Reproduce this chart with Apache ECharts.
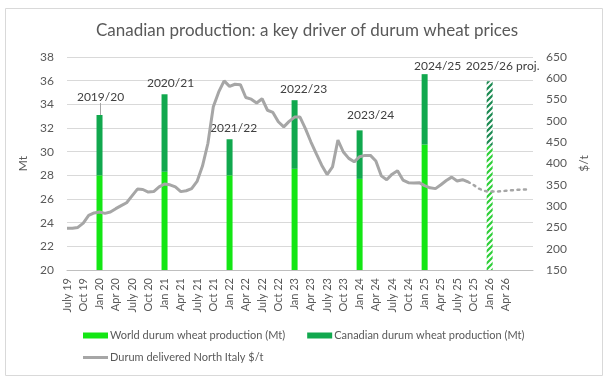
<!DOCTYPE html>
<html>
<head>
<meta charset="utf-8">
<script src="https://cdn.jsdelivr.net/npm/echarts@6/dist/echarts.min.js"></script>
<style>
html,body{margin:0;padding:0;background:#fff;}
#c{width:614px;height:383px;}
</style>
</head>
<body>
<div id="c"></div>
<script>
// ---- DATA ----
const months = [
 'July 19','Aug 19','Sep 19','Oct 19','Nov 19','Dec 19',
 'Jan 20','Feb 20','Mar 20','Apr 20','May 20','Jun 20','July 20','Aug 20','Sep 20','Oct 20','Nov 20','Dec 20',
 'Jan 21','Feb 21','Mar 21','Apr 21','May 21','Jun 21','July 21','Aug 21','Sep 21','Oct 21','Nov 21','Dec 21',
 'Jan 22','Feb 22','Mar 22','Apr 22','May 22','Jun 22','July 22','Aug 22','Sep 22','Oct 22','Nov 22','Dec 22',
 'Jan 23','Feb 23','Mar 23','Apr 23','May 23','Jun 23','July 23','Aug 23','Sep 23','Oct 23','Nov 23','Dec 23',
 'Jan 24','Feb 24','Mar 24','Apr 24','May 24','Jun 24','July 24','Aug 24','Sep 24','Oct 24','Nov 24','Dec 24',
 'Jan 25','Feb 25','Mar 25','Apr 25','May 25','Jun 25','July 25','Aug 25','Sep 25','Oct 25','Nov 25','Dec 25',
 'Jan 26','Feb 26','Mar 26','Apr 26','May 26','Jun 26','July 26','Aug 26','Sep 26'
];
const barMonths = ['Jan 20','Jan 21','Jan 22','Jan 23','Jan 24','Jan 25','Jan 26'];
const seasons = ['2019/20','2020/21','2021/22','2022/23','2023/24','2024/25','2025/26 proj.'];
const worldProd = [28.0, 28.3, 28.0, 28.55, 27.7, 30.6, 30.5];
const canadaProd = [5.1, 6.55, 3.05, 5.8, 4.1, 5.95, 5.45];
const projectedSeason = '2025/26 proj.';
// Durum delivered North Italy $/t, monthly from July 19
const priceActual = [
 248,248,250,260,278,284,
 286,283,286,294,301,308,324,340,339,333,334,345,
 352,350,345,334,336,341,358,394,447,533,568,594,
 581,586,585,555,551,542,552,525,520,498,486,499,
 509,509,482,451,423,396,374,392,455,427,412,404,
 416,419,419,406,371,362,375,383,361,355,354,355,
 348,343,341,350,360,368,359,362,357
];
// projection (dotted), starting at Sep 25
const projStart = 'Sep 25';
const priceProjected = [357,350,341,336,334,334,335,336,337,338,339,339];
const leftTicks = {min:20, max:38, step:2};
const rightTicks = {min:150, max:650, step:50};

// ---- STYLE ----
const FONT = 'Lato, "Liberation Sans", sans-serif';
const TXT = '#595959';
const LIGHT = '#14E614';
const DARK = '#11A84E';
const labelShift = {
 '2019/20':[1,-7],'2020/21':[6,0],'2021/22':[4,0],'2022/23':[9,0],
 '2023/24':[11,-4],'2024/25':[13,3],'2025/26 proj.':[13,-4]
};
const leaderLabel = '2019/20';
function hatch(color){
  const c = document.createElement('canvas');
  c.width = 6; c.height = 6;
  const g = c.getContext('2d');
  g.fillStyle = '#ffffff'; g.fillRect(0,0,6,6);
  g.strokeStyle = color; g.lineWidth = 2.2;
  g.beginPath();
  g.moveTo(-1,7); g.lineTo(7,-1);
  g.moveTo(-4,4); g.lineTo(4,-4);
  g.moveTo(2,10); g.lineTo(10,2);
  g.stroke();
  return {image:c, repeat:'repeat'};
}

// ---- BUILD ----
const N = months.length;
const worldData = new Array(N).fill(null);
const canadaData = new Array(N).fill(null);
const labelOfIndex = {};
barMonths.forEach((m,k)=>{
  const i = months.indexOf(m);
  const proj = seasons[k] === projectedSeason;
  labelOfIndex[i] = seasons[k];
  worldData[i] = proj ? {value:worldProd[k], itemStyle:{color:hatch('#2FCF3A')}} : worldProd[k];
  canadaData[i] = {
    value: canadaProd[k],
    itemStyle: proj ? {color:hatch('#1C8A52')} : undefined,
    label: {show:true, formatter: seasons[k]},
    labelLine: {show: seasons[k] === leaderLabel}
  };
});
const actualData = new Array(N).fill(null);
priceActual.forEach((v,i)=>{ actualData[i]=v; });
const projData = new Array(N).fill(null);
const ps = months.indexOf(projStart);
priceProjected.forEach((v,k)=>{ projData[ps+k]=v; });

const chart = echarts.init(document.getElementById('c'), null, {renderer:'canvas'});
chart.setOption({
  animation:false,
  textStyle:{fontFamily:FONT},
  title:{text:'Canadian production: a key driver of durum wheat prices', left:'center', top:17,
    textStyle:{fontFamily:FONT, fontSize:17, fontWeight:'normal', color:TXT}},
  graphic:[{type:'rect', shape:{x:5.5,y:8.5,width:597,height:367}, style:{fill:null, stroke:'#D9D9D9', lineWidth:1}, silent:true}],
  grid:{left:67, right:81, top:57, bottom:113},
  legend:[
    {data:['World durum wheat production (Mt)','Canadian durum wheat production (Mt)'],
     left:78, top:325, itemWidth:25, itemHeight:6, itemGap:22, icon:'rect',
     textStyle:{fontFamily:FONT, fontSize:11, color:TXT, padding:[0,0,0,-3]}},
    {data:[{name:'Durum delivered North Italy $/t', icon:'rect'}],
     left:78, top:347, itemWidth:25, itemHeight:3, icon:'rect',
     textStyle:{fontFamily:FONT, fontSize:11, color:TXT, padding:[0,0,0,-3]}}
  ],
  xAxis:{type:'category', data:months, boundaryGap:false,
    axisLine:{lineStyle:{color:'#BFBFBF'}}, axisTick:{show:false},
    axisLabel:{rotate:90, fontSize:11, color:TXT, margin:8, fontFamily:FONT,
      interval:(i)=> i%3===0 && i<=81}},
  yAxis:[
    {type:'value', min:leftTicks.min, max:leftTicks.max, interval:leftTicks.step,
     name:'Mt', nameLocation:'middle', nameGap:28, nameRotate:90,
     nameTextStyle:{fontSize:12, color:TXT, fontFamily:FONT},
     axisLabel:{fontSize:12, color:TXT, margin:13, fontFamily:FONT},
     splitLine:{lineStyle:{color:'#D9D9D9'}}, axisLine:{show:false}, axisTick:{show:false}},
    {type:'value', min:rightTicks.min, max:rightTicks.max, interval:rightTicks.step,
     name:'$/t', nameLocation:'middle', nameGap:38, nameRotate:90,
     nameTextStyle:{fontSize:12, color:TXT, fontFamily:FONT},
     axisLabel:{fontSize:12, color:TXT, margin:13, fontFamily:FONT},
     splitLine:{show:false}, axisLine:{show:false}, axisTick:{show:false}}
  ],
  series:[
    {name:'World durum wheat production (Mt)', type:'bar', stack:'p', yAxisIndex:0,
     data:worldData, barWidth:6, itemStyle:{color:LIGHT}, z:2},
    {name:'Canadian durum wheat production (Mt)', type:'bar', stack:'p', yAxisIndex:0,
     data:canadaData, barWidth:6, itemStyle:{color:DARK}, z:2,
     label:{show:false, position:'top', distance:5, fontSize:12, color:'#404040', fontFamily:FONT},
     labelLine:{show:false, lineStyle:{color:'#A6A6A6', width:1}},
     labelLayout:(p)=>{
       const s = labelShift[labelOfIndex[p.dataIndex]] || [0,0];
       return {dx:s[0], dy:s[1]};
     }},
    {name:'Durum delivered North Italy $/t', type:'line', yAxisIndex:1, data:actualData,
     symbol:'none', lineStyle:{color:'#A6A6A6', width:3}, itemStyle:{color:'#A6A6A6'}, z:5, connectNulls:false},
    {name:'proj', type:'line', yAxisIndex:1, data:projData, symbol:'none',
     lineStyle:{color:'#A6A6A6', width:2.5, type:[2,4.5], cap:'round'}, z:5}
  ]
});
</script>
</body>
</html>
